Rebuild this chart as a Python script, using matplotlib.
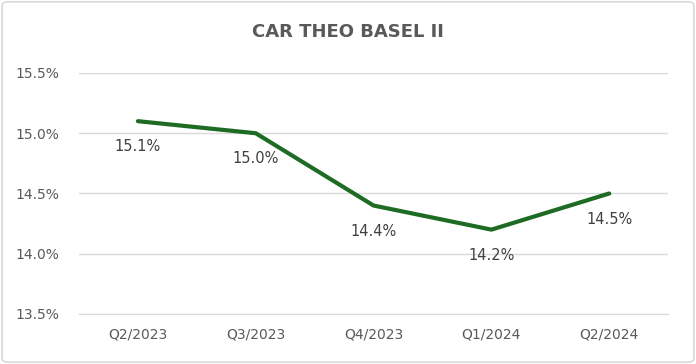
import matplotlib.pyplot as plt
from matplotlib.patches import FancyBboxPatch

quarters = ['Q2/2023', 'Q3/2023', 'Q4/2023', 'Q1/2024', 'Q2/2024']
car_values = [15.1, 15.0, 14.4, 14.2, 14.5]
y_ticks = [13.5, 14.0, 14.5, 15.0, 15.5]

fig = plt.figure(figsize=(6.96, 3.64), dpi=100)
ax = fig.add_axes([0.1135, 0.1374, 0.8465, 0.6621])

x = list(range(len(quarters)))
ax.plot(x, car_values, color='#1e6b24', linewidth=3, solid_joinstyle='round', solid_capstyle='round', zorder=3)

for xi, v in zip(x, car_values):
    ax.annotate(f'{v:.1f}%', (xi, v), xytext=(0, -13), textcoords='offset points',
                ha='center', va='top', fontsize=10.5, color='#404040')

ax.set_xlim(-0.5, len(quarters) - 0.5)
ax.set_ylim(13.5, 15.5)
ax.set_yticks(y_ticks)
ax.set_yticklabels([f'{t:.1f}%' for t in y_ticks])
ax.set_xticks(x)
ax.set_xticklabels(quarters)
ax.tick_params(axis='both', length=0, labelsize=10, labelcolor='#595959')
ax.tick_params(axis='y', pad=14)
ax.tick_params(axis='x', pad=10)
ax.grid(axis='y', color='#d9d9d9', linewidth=1)
ax.set_axisbelow(True)
for s in ax.spines.values():
    s.set_visible(False)
ax.spines['bottom'].set_visible(True)
ax.spines['bottom'].set_color('#d9d9d9')

fig.text(0.5, 0.912, 'CAR THEO BASEL II', ha='center', va='center',
         fontsize=13, fontweight='bold', color='#595959')

border = FancyBboxPatch((0.003, 0.005), 0.994, 0.99, boxstyle='round,pad=0,rounding_size=0.01',
                        transform=fig.transFigure, facecolor='none', edgecolor='#d9d9d9', linewidth=1.2)
fig.patches.append(border)

fig.savefig('out.png', dpi=100)
